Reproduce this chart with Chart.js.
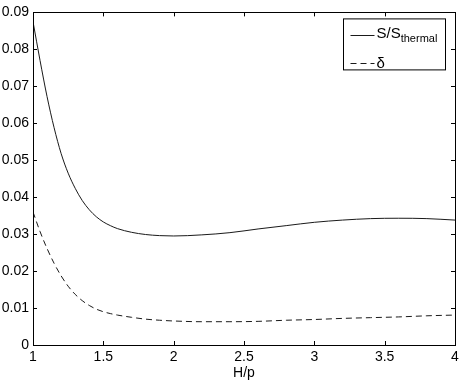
<!DOCTYPE html>
<html>
<head>
<meta charset="utf-8">
<script src="https://cdn.jsdelivr.net/npm/chart.js@4/dist/chart.umd.min.js"></script>
<style>
  html, body { margin: 0; padding: 0; background: #fff; }
  #wrap { width: 463px; height: 384px; }
</style>
</head>
<body>
<div id="wrap"><canvas id="c" width="463" height="384"></canvas></div>
<script>
// values
const hOverP = [1, 1.05, 1.1, 1.15, 1.2, 1.25, 1.3, 1.35, 1.4, 1.45, 1.5, 1.55, 1.6,
  1.7, 1.8, 1.9, 2.0, 2.2, 2.4, 2.6, 2.8, 3.0, 3.2, 3.4, 3.6, 3.8, 4.0]
const sRatio = [0.0875, 0.077, 0.0672, 0.0588, 0.0518, 0.0465, 0.0424, 0.0391, 0.0366,
  0.0347, 0.0333, 0.0323, 0.0315, 0.0305, 0.0299, 0.0296, 0.0295, 0.0298, 0.0304,
  0.0314, 0.0323, 0.0332, 0.0338, 0.0342, 0.0343, 0.0342, 0.0338]
const delta = [0.036, 0.0307, 0.0261, 0.0221, 0.0187, 0.0159, 0.0137, 0.012, 0.0107,
  0.0097, 0.009, 0.0085, 0.0081, 0.0075, 0.007, 0.0067, 0.0065, 0.0063, 0.0063,
  0.0064, 0.0067, 0.0069, 0.0072, 0.0074, 0.0076, 0.0079, 0.0081]
const xTickLabels = ['1', '1.5', '2', '2.5', '3', '3.5', '4']
const yTickLabels = ['0', '0.01', '0.02', '0.03', '0.04', '0.05', '0.06', '0.07', '0.08', '0.09']
const legendItems = [
  { main: 'S/S', sub: 'thermal' },
  { main: 'δ', sub: '' },
]

const FONT = '"Liberation Sans", Arial, Helvetica, sans-serif'
const INK = '#000'

const toPoints = (ys) => ys.map((y, i) => ({ x: hOverP[i], y }))

// MATLAB-style box with inward ticks on all four sides
const boxPlugin = {
  id: 'box',
  afterDatasetsDraw(chart) {
    const { ctx, chartArea: a, scales } = chart
    const len = 4
    ctx.save()
    ctx.strokeStyle = INK
    ctx.lineWidth = 1
    ctx.beginPath()
    scales.x.ticks.forEach((t) => {
      const px = Math.round(scales.x.getPixelForValue(t.value)) + 0.5
      ctx.moveTo(px, a.bottom); ctx.lineTo(px, a.bottom - len)
      ctx.moveTo(px, a.top); ctx.lineTo(px, a.top + len)
    })
    scales.y.ticks.forEach((t) => {
      const py = Math.round(scales.y.getPixelForValue(t.value)) + 0.5
      ctx.moveTo(a.left, py); ctx.lineTo(a.left + len, py)
      ctx.moveTo(a.right, py); ctx.lineTo(a.right - len, py)
    })
    ctx.stroke()
    ctx.strokeRect(Math.round(a.left) + 0.5, Math.round(a.top) + 0.5,
      Math.round(a.right - a.left), Math.round(a.bottom - a.top))
    ctx.restore()
  },
}

// legend box in the upper right corner with subscript text
const legendPlugin = {
  id: 'subLegend',
  afterDraw(chart) {
    const { ctx, chartArea: a } = chart
    const x0 = a.right - 111.5, y0 = a.top + 6.5, w = 102, h = 51
    ctx.save()
    ctx.fillStyle = '#fff'
    ctx.fillRect(x0, y0, w, h)
    ctx.strokeStyle = INK
    ctx.lineWidth = 1
    ctx.strokeRect(x0, y0, w, h)
    chart.data.datasets.forEach((ds, i) => {
      const yy = Math.round(y0 + 16 + i * 28.5) + 0.5
      ctx.strokeStyle = ds.borderColor
      ctx.lineWidth = ds.borderWidth
      ctx.setLineDash(ds.borderDash || [])
      ctx.beginPath()
      ctx.moveTo(x0 + 7, yy); ctx.lineTo(x0 + 31, yy)
      ctx.stroke()
      ctx.setLineDash([])
      const item = legendItems[i]
      ctx.fillStyle = INK
      ctx.textBaseline = 'alphabetic'
      ctx.font = '15px ' + FONT
      ctx.fillText(item.main, x0 + 33, yy + 2 + i * 2)
      if (item.sub) {
        const mw = ctx.measureText(item.main).width
        ctx.font = '11px ' + FONT
        ctx.fillText(item.sub, x0 + 33 + mw, yy + 6)
      }
    })
    ctx.restore()
  },
}

new Chart(document.getElementById('c'), {
  type: 'line',
  plugins: [boxPlugin, legendPlugin],
  data: {
    datasets: [
      {
        label: 'S/S thermal',
        data: toPoints(sRatio),
        borderColor: '#1a1a1a',
        borderWidth: 1,
        pointRadius: 0,
        cubicInterpolationMode: 'monotone',
      },
      {
        label: 'δ',
        data: toPoints(delta),
        borderColor: '#1a1a1a',
        borderWidth: 1,
        borderDash: [6, 4],
        pointRadius: 0,
        cubicInterpolationMode: 'monotone',
      },
    ],
  },
  options: {
    responsive: false,
    animation: false,
    layout: { padding: { left: 0, top: 11, right: 8, bottom: 0 } },
    plugins: {
      legend: { display: false },
      tooltip: { enabled: false },
    },
    scales: {
      x: {
        type: 'linear',
        min: 1,
        max: 4,
        afterFit: (s) => { s.height = 39 },
        grid: { display: false, drawTicks: false },
        border: { display: false },
        ticks: {
          stepSize: 0.5,
          padding: 4,
          color: INK,
          font: { family: FONT, size: 14 },
          maxRotation: 0,
          callback: (v, i) => xTickLabels[i],
        },
        title: {
          display: true,
          text: 'H/p',
          color: INK,
          font: { family: FONT, size: 14 },
          padding: { top: 0, bottom: 2 },
        },
      },
      y: {
        type: 'linear',
        min: 0,
        max: 0.09,
        afterFit: (s) => { s.width = 33 },
        grid: { display: false, drawTicks: false },
        border: { display: false },
        ticks: {
          stepSize: 0.01,
          padding: 4,
          color: INK,
          font: { family: FONT, size: 14 },
          callback: (v, i) => yTickLabels[i],
        },
      },
    },
  },
})
</script>
</body>
</html>
